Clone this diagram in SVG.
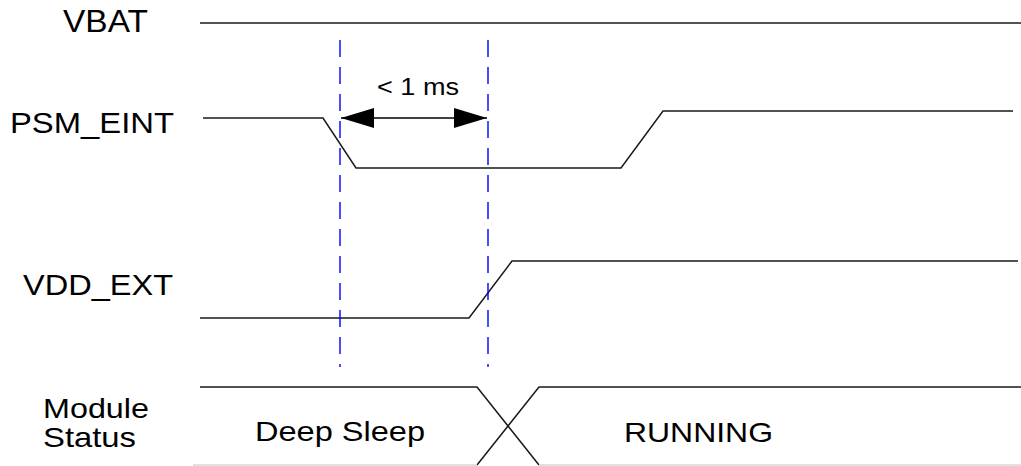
<svg xmlns="http://www.w3.org/2000/svg" width="1021" height="466" viewBox="0 0 1021 466">
  <style>
    .lbl { font-family: "Liberation Sans", Arial, sans-serif; fill: #000; }
    .sig { fill: none; stroke: #1a1a1a; stroke-width: 1.5; stroke-linejoin: miter; }
    .mark { fill: none; stroke: #0000ff; stroke-width: 1.4; stroke-dasharray: 17 10; }
    .dim { fill: none; stroke: #000; stroke-width: 1.5; }
  </style>
  <defs>
    <marker id="arrowHead" markerWidth="33" markerHeight="20" refX="33" refY="10" orient="auto-start-reverse" markerUnits="userSpaceOnUse">
      <path d="M0,0 L33,10 L0,20 Z" fill="#000"/>
    </marker>
  </defs>

  <rect width="1021" height="466" fill="#fff"/>

  <!-- VBAT: constant high -->
  <g id="vbat">
    <text class="lbl" x="63" y="32" font-size="31" textLength="85" lengthAdjust="spacingAndGlyphs">VBAT</text>
    <path class="sig" d="M200,23 H1021"/>
  </g>

  <!-- PSM_EINT: falls, then rises again -->
  <g id="psm-eint">
    <text class="lbl" x="10" y="133" font-size="30" textLength="164" lengthAdjust="spacingAndGlyphs">PSM_EINT</text>
    <path class="sig" d="M203,118 H323 L356,168 H621 L663,111 H1013"/>
  </g>

  <!-- VDD_EXT: rises after wake-up -->
  <g id="vdd-ext">
    <text class="lbl" x="23" y="295" font-size="30" textLength="150" lengthAdjust="spacingAndGlyphs">VDD_EXT</text>
    <path class="sig" d="M200,318 H469 L512,261 H1018"/>
  </g>

  <!-- Module status bus -->
  <g id="module-status">
    <text class="lbl" x="43" y="418" font-size="28" textLength="106" lengthAdjust="spacingAndGlyphs">Module</text>
    <text class="lbl" x="43" y="447" font-size="28" textLength="93" lengthAdjust="spacingAndGlyphs">Status</text>
    <path class="sig" d="M200,387 H477 L539,465"/>
    <path class="sig" d="M477,465 L539,387 H1021" />
    <path d="M193,465 H477 M539,465 H1021" fill="none" stroke="#d8d8d8" stroke-width="1.5"/>
    <text class="lbl" x="255" y="441" font-size="28" textLength="170" lengthAdjust="spacingAndGlyphs">Deep Sleep</text>
    <text class="lbl" x="624" y="441.5" font-size="28" textLength="149" lengthAdjust="spacingAndGlyphs">RUNNING</text>
  </g>

  <!-- Timing markers and interval dimension -->
  <g id="connectors">
    <path class="mark" d="M340,40 V367"/>
    <path class="mark" d="M488,40 V367"/>
    <path class="dim" d="M341,118 H487" marker-start="url(#arrowHead)" marker-end="url(#arrowHead)"/>
    <text class="lbl" x="377" y="95" font-size="23" textLength="82" lengthAdjust="spacingAndGlyphs">&lt; 1 ms</text>
  </g>
</svg>
